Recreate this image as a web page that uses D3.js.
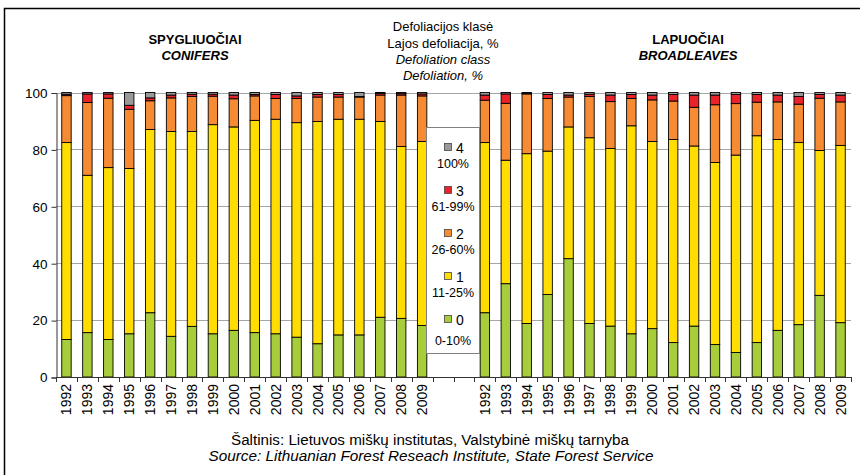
<!DOCTYPE html>
<html>
<head>
<meta charset="utf-8">
<script src="https://cdn.jsdelivr.net/npm/d3@7"></script>
<style>
body { margin: 0; background: #fff; }
svg text { font-family: "Liberation Sans", Arial, sans-serif; fill: #000; }
</style>
</head>
<body>
<div id="chart"></div>
<script>
var years = ['1992', '1993', '1994', '1995', '1996', '1997', '1998', '1999', '2000',
             '2001', '2002', '2003', '2004', '2005', '2006', '2007', '2008', '2009'];
var classKeys = ['0', '1', '2', '3', '4'];
var classRanges = ['0-10%', '11-25%', '26-60%', '61-99%', '100%'];
var yTicks = [0, 20, 40, 60, 80, 100];

// spygliuociai / conifers, % of trees by defoliation class
var conifer0 = [13.2, 15.6, 13.2, 15.2, 22.6, 14.3, 17.8, 15.2, 16.4, 15.6, 15.2, 14.0, 11.7, 14.8, 14.8, 21.0, 20.6, 18.1];
var conifer1 = [69.2, 55.3, 60.4, 58.1, 64.4, 72.0, 68.5, 73.5, 71.5, 74.6, 75.4, 75.4, 78.1, 75.8, 75.8, 68.8, 60.4, 64.7];
var conifer2 = [16.5, 25.6, 24.4, 20.8, 10.1, 11.8, 12.3, 10.0, 9.9, 8.6, 7.3, 8.5, 8.6, 7.8, 7.8, 9.3, 18.1, 16.0];
var conifer3 = [0.5, 3.0, 1.5, 1.4, 1.0, 1.0, 0.8, 0.7, 1.3, 0.5, 1.4, 0.9, 0.9, 0.9, 0.2, 0.6, 0.5, 0.7];
var conifer4 = [0.6, 0.5, 0.5, 4.5, 1.9, 0.9, 0.6, 0.6, 0.9, 0.7, 0.7, 1.2, 0.7, 0.7, 1.4, 0.3, 0.4, 0.5];

// lapuociai / broadleaves
var broad0 = [22.6, 32.8, 18.8, 29.0, 41.6, 18.8, 17.9, 15.2, 17.0, 12.1, 17.9, 11.4, 8.6, 12.1, 16.4, 18.4, 28.7, 19.1];
var broad1 = [59.8, 43.4, 59.7, 50.4, 46.3, 65.3, 62.4, 73.1, 65.8, 71.4, 63.3, 64.0, 69.4, 72.7, 67.1, 64.0, 50.9, 62.3];
var broad2 = [14.9, 20.0, 21.0, 18.5, 10.5, 14.5, 16.5, 9.6, 14.6, 13.5, 13.6, 20.3, 18.1, 11.8, 13.2, 13.5, 18.4, 15.3];
var broad3 = [1.8, 3.3, 0.2, 1.4, 0.7, 0.8, 2.3, 1.4, 1.7, 2.3, 4.3, 3.4, 3.2, 2.7, 2.4, 2.7, 1.3, 2.4];
var broad4 = [0.9, 0.5, 0.3, 0.7, 0.9, 0.6, 0.9, 0.7, 0.9, 0.7, 0.9, 0.9, 0.7, 0.7, 0.9, 1.4, 0.7, 0.9];

var classColors = ['#a8cd3a', '#ffdd00', '#f68b33', '#ea2229', '#999999'];

function buildRows() {
    'use strict';
    var rows = [];
    years.forEach(function (y, i) {
        rows.push({ slot: 'C' + y, year: y, '0': conifer0[i], '1': conifer1[i], '2': conifer2[i], '3': conifer3[i], '4': conifer4[i] });
    });
    rows.push({ slot: 'gap1', year: '', empty: true });
    rows.push({ slot: 'gap2', year: '', empty: true });
    years.forEach(function (y, i) {
        rows.push({ slot: 'B' + y, year: y, '0': broad0[i], '1': broad1[i], '2': broad2[i], '3': broad3[i], '4': broad4[i] });
    });
    return rows;
}

function init() {
    'use strict';
    var width = 860, height = 475;
    var left = 56, right = 851, top = 92.5, bottom = 377;
    var rows = buildRows();
    var barRows = rows.filter(function (r) { return !r.empty; });

    var svg = d3.select('#chart').append('svg')
        .attr('width', width)
        .attr('height', height);

    // outer frame
    svg.append('rect')
        .attr('x', 4.5).attr('y', 8.5)
        .attr('width', 900).attr('height', 500)
        .attr('fill', 'none').attr('stroke', '#000').attr('stroke-width', 1.5);

    var x = d3.scaleBand()
        .domain(rows.map(function (r) { return r.slot; }))
        .range([left, right])
        .paddingInner(0.55)
        .paddingOuter(0.275);
    var y = d3.scaleLinear().domain([0, 100]).range([bottom, top]);

    // gridlines
    svg.append('g').selectAll('line')
        .data(yTicks.slice(1))
        .enter().append('line')
        .attr('x1', left).attr('x2', right)
        .attr('y1', function (d) { return Math.round(y(d)) + 0.5; })
        .attr('y2', function (d) { return Math.round(y(d)) + 0.5; })
        .attr('stroke', '#a6a6a6').attr('stroke-width', 1);

    // y axis
    var yAxis = svg.append('g')
        .attr('transform', 'translate(' + (left + 0.5) + ',0.5)')
        .call(d3.axisLeft(y).tickValues(yTicks).tickSize(5).tickPadding(4));
    yAxis.select('.domain').attr('stroke', '#333');
    yAxis.selectAll('.tick line').attr('stroke', '#333');
    yAxis.selectAll('text').style('font-size', '13.5px').style('font-family', '"Liberation Sans", Arial, sans-serif');

    // stacked bars
    var stack = d3.stack().keys(classKeys);
    var series = stack(barRows);
    svg.append('g').selectAll('g')
        .data(series)
        .enter().append('g')
        .attr('fill', function (d, i) { return classColors[i]; })
        .selectAll('rect')
        .data(function (d) { return d; })
        .enter().append('rect')
        .attr('x', function (d) { return x(d.data.slot); })
        .attr('width', x.bandwidth())
        .attr('y', function (d) { return y(d[1]); })
        .attr('height', function (d) { return y(d[0]) - y(d[1]); })
        .attr('stroke', '#000')
        .attr('stroke-width', 0.9);

    // x axis with ticks between slots
    var step = x.step();
    var xAxis = svg.append('g');
    xAxis.append('line')
        .attr('x1', left).attr('x2', right)
        .attr('y1', bottom + 0.5).attr('y2', bottom + 0.5)
        .attr('stroke', '#333');
    xAxis.selectAll('line.tick')
        .data(d3.range(rows.length + 1))
        .enter().append('line')
        .attr('class', 'tick')
        .attr('x1', function (k) { return Math.round(left + k * step) + 0.5; })
        .attr('x2', function (k) { return Math.round(left + k * step) + 0.5; })
        .attr('y1', bottom).attr('y2', bottom + 5)
        .attr('stroke', '#333');
    xAxis.selectAll('text')
        .data(barRows)
        .enter().append('text')
        .attr('transform', function (d) {
            return 'translate(' + (x(d.slot) + x.bandwidth() / 2 + 5) + ',' + (bottom + 7) + ') rotate(-90)';
        })
        .attr('text-anchor', 'end')
        .style('font-size', '14px')
        .text(function (d) { return d.year; });

    // titles
    var titles = svg.append('g').attr('text-anchor', 'middle').style('font-size', '13px');
    titles.append('text').attr('x', 195).attr('y', 44).style('font-weight', 'bold').text('SPYGLIUOČIAI');
    titles.append('text').attr('x', 195).attr('y', 60).style('font-weight', 'bold').style('font-style', 'italic').text('CONIFERS');
    titles.append('text').attr('x', 688).attr('y', 44).style('font-weight', 'bold').text('LAPUOČIAI');
    titles.append('text').attr('x', 688).attr('y', 60).style('font-weight', 'bold').style('font-style', 'italic').text('BROADLEAVES');
    titles.append('text').attr('x', 443).attr('y', 31).text('Defoliacijos klasė');
    titles.append('text').attr('x', 443).attr('y', 48).text('Lajos defoliacija, %');
    titles.append('text').attr('x', 443).attr('y', 64).style('font-style', 'italic').text('Defoliation class');
    titles.append('text').attr('x', 443).attr('y', 80).style('font-style', 'italic').text('Defoliation, %');

    // legend
    var legend = svg.append('g');
    legend.append('rect')
        .attr('x', 426.5).attr('y', 127.5)
        .attr('width', 53).attr('height', 226)
        .attr('fill', '#fff').attr('stroke', '#808080');
    var items = legend.selectAll('g.item')
        .data(d3.range(classKeys.length).reverse())
        .enter().append('g')
        .attr('class', 'item')
        .attr('transform', function (k, i) { return 'translate(0,' + (148 + i * 43) + ')'; });
    items.append('rect')
        .attr('x', 444.5).attr('y', -4.5)
        .attr('width', 7).attr('height', 7)
        .attr('fill', function (k) { return classColors[k]; })
        .attr('stroke', '#444').attr('stroke-width', 0.8);
    items.append('text')
        .attr('x', 456).attr('y', 4.5)
        .style('font-size', '14px')
        .text(function (k) { return classKeys[k]; });
    items.append('text')
        .attr('x', 453).attr('y', function (k) { return k === 0 ? 25 : 20; })
        .attr('text-anchor', 'middle')
        .style('font-size', '12.5px')
        .text(function (k) { return classRanges[k]; });

    // source
    var src = svg.append('g').attr('text-anchor', 'middle').style('font-size', '14px');
    src.append('text').attr('x', 430).attr('y', 445)
        .attr('textLength', 398).attr('lengthAdjust', 'spacingAndGlyphs')
        .text('Šaltinis: Lietuvos miškų institutas, Valstybinė miškų tarnyba');
    src.append('text').attr('x', 431).attr('y', 461).style('font-style', 'italic')
        .attr('textLength', 445).attr('lengthAdjust', 'spacingAndGlyphs')
        .text('Source: Lithuanian Forest Reseach Institute, State Forest Service');
}

window.onload = init;
</script>
</body>
</html>
